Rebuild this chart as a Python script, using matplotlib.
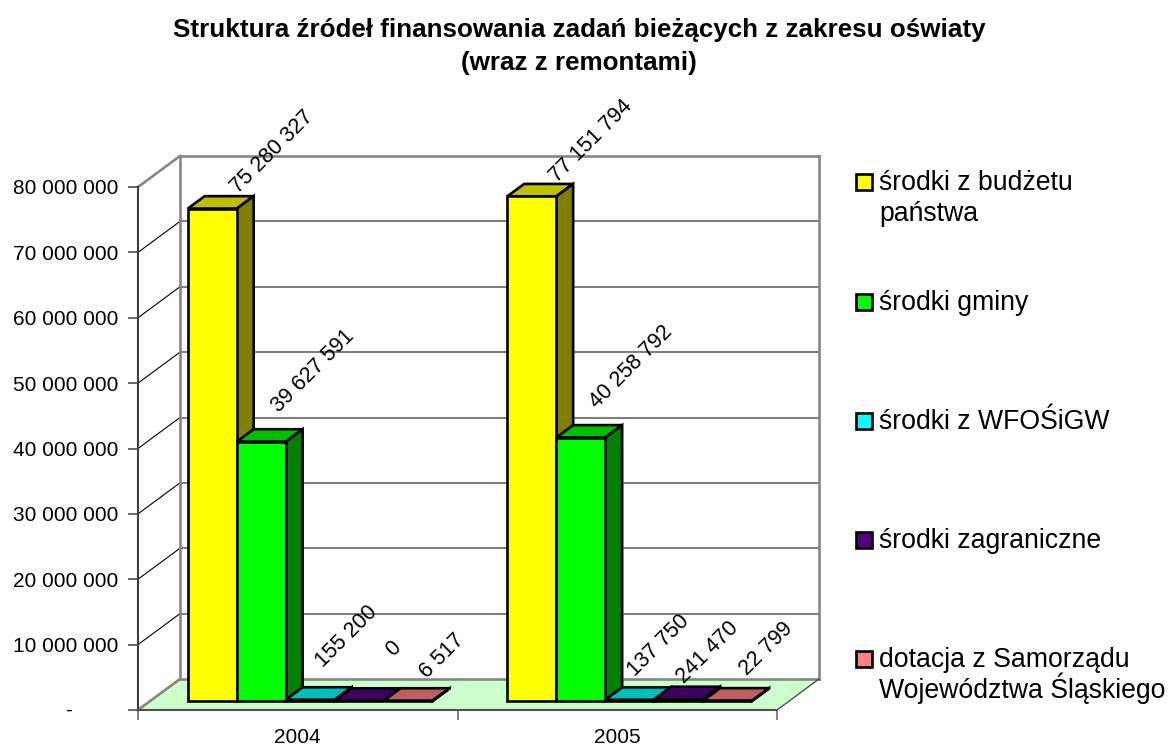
#!/usr/bin/env python3
# -*- coding: utf-8 -*-
import matplotlib
matplotlib.use('Agg')
import matplotlib.pyplot as plt
from matplotlib.patches import Polygon, Rectangle

plt.rcParams['font.family'] = ['Liberation Sans', 'DejaVu Sans']

# The numbers
years = ['2004', '2005']
budzet = [75280327, 77151794]
gmina = [39627591, 40258792]
wfosigw = [155200, 137750]
zagraniczne = [0, 241470]
samorzad = [6517, 22799]

series_names = ['środki z budżetu\npaństwa', 'środki gminy', 'środki z WFOŚiGW',
                'środki zagraniczne', 'dotacja z Samorządu\nWojewództwa Śląskiego']
series_colors = ['#FFFF00', '#00FF00', '#00FFFF', '#550080', '#FF8080']
y_ticks = [0, 10000000, 20000000, 30000000, 40000000, 50000000, 60000000, 70000000, 80000000]
y_ticklabels = ['', '10 000 000', '20 000 000', '30 000 000', '40 000 000',
                '50 000 000', '60 000 000', '70 000 000', '80 000 000']

W, H = 1169, 745
# front plane of the fake 3d box, in pixels
L, R, T, B = 138, 777, 187, 710
# how far the back wall sits from the front plane, in pixels
DX, DY = 42, 31

fig = plt.figure(figsize=(W/100, H/100), dpi=100)
ax = fig.add_axes([L/W, (H-B)/H, (R-L)/W, (B-T)/H])
ax.set_xlim(0, 2)
ax.set_ylim(0, 80000000)
ax.patch.set_visible(False)
ax.set_axisbelow(False)

xpx = 2/(R-L)
ypx = 80000000/(B-T)


def proj(x, y, d):
    """Data position at depth d (0 front, 1 back wall)"""
    return (x + d*DX*xpx, y + d*DY*ypx)


def face(pts, fc, ec='none', lw=0, z=1):
    ax.add_patch(Polygon(pts, closed=True, fc=fc, ec=ec, lw=lw, zorder=z,
                         clip_on=False, joinstyle='miter'))


def line(p0, p1, color, lw, z=2):
    ax.plot([p0[0], p1[0]], [p0[1], p1[1]], color=color, lw=lw, zorder=z,
            clip_on=False, solid_capstyle='projecting')


def shade(c, f):
    rgb = matplotlib.colors.to_rgb(c)
    return tuple(v*f for v in rgb)


# Floor
face([proj(0, 0, 0), proj(2, 0, 0), proj(2, 0, 1), proj(0, 0, 1)], '#CCFFCC')

# Walls and gridlines
for v in y_ticks[1:-1]:
    line(proj(0, v, 1), proj(2, v, 1), '#585858', 1.1)
    line(proj(0, v, 0), proj(0, v, 1), '#000000', 0.8)
wall = '#868686'
line(proj(0, 80000000, 1), proj(2, 80000000, 1), wall, 1.9)
line(proj(0, 0, 1), proj(2, 0, 1), wall, 1.9)
line(proj(0, 0, 1), proj(0, 80000000, 1), wall, 1.9)
line(proj(2, 0, 1), proj(2, 80000000, 1), wall, 1.9)
line(proj(0, 80000000, 0), proj(0, 80000000, 1), wall, 1.9)
line(proj(0, 0, 0), proj(0, 0, 1), wall, 1.9)
line(proj(2, 0, 0), proj(2, 0, 1), '#404040', 0.9)

# Bars
bw = 49*xpx
gap = (1 - 5*bw)/2
d0, d1 = 0.3, 0.7
series = [budzet, gmina, wfosigw, zagraniczne, samorzad]
# where each value label sits relative to the bar's front top centre, pixels
label_off = [[(60, 57), (59, 55)], [(52, 70), (50, 70)], [(36, 63), (29, 54)],
             [(34, 52), (29, 47)], [(34, 45), (39, 52)]]
for g in range(len(years)):
    for s, vals in enumerate(series):
        v = vals[g]
        x0 = g + gap + s*bw
        x1 = x0 + bw
        c = series_colors[s]
        face([proj(x0, v, d0), proj(x1, v, d0), proj(x1, v, d1), proj(x0, v, d1)],
             shade(c, 0.75), 'black', 1.9, 5)
        face([proj(x1, 0, d0), proj(x1, 0, d1), proj(x1, v, d1), proj(x1, v, d0)],
             shade(c, 0.5), 'black', 1.9, 5)
        face([proj(x0, 0, d0), proj(x1, 0, d0), proj(x1, v, d0), proj(x0, v, d0)],
             c, 'black', 1.9, 5)
        ax.annotate('{:,}'.format(v).replace(',', ' '), proj(x0 + bw/2, v, d0),
                    xytext=label_off[s][g], textcoords='offset pixels',
                    rotation=45, rotation_mode='anchor', ha='center', va='center',
                    fontsize=15.5, annotation_clip=False, zorder=8)

# Axes
for sp in ['top', 'right']:
    ax.spines[sp].set_visible(False)
ax.spines['left'].set_color('#404040')
ax.spines['left'].set_linewidth(1.5)
ax.spines['bottom'].set_color('#505050')
ax.spines['bottom'].set_linewidth(1.5)
ax.spines['bottom'].set_zorder(3)
ax.set_yticks(y_ticks)
ax.set_yticklabels(y_ticklabels, fontsize=15)
ax.tick_params(axis='y', length=7.2, width=1.1, color='#404040', pad=7)
ax.set_xticks([0, 1, 2])
ax.set_xticklabels([])
ax.tick_params(axis='x', which='major', length=7, width=1.1, color='#606060')
ax.set_xticks([0.5, 1.5], minor=True)
ax.set_xticklabels(years, minor=True, fontsize=15)
ax.tick_params(axis='x', which='minor', length=0, pad=13)
ax.text(-69*xpx, 0, '-', fontsize=15, ha='center', va='center')

# Title
fig.text(579/W, 1 - 30/H, 'Struktura źródeł finansowania zadań bieżących z zakresu oświaty',
         fontsize=18.7, fontweight='bold', ha='center', va='center')
fig.text(579/W, 1 - 63/H, '(wraz z remontami)',
         fontsize=18.7, fontweight='bold', ha='center', va='center')

# Legend, one baseline per entry
legend_base = [190, 310, 429, 548, 667]
for name, c, by in zip(series_names, series_colors, legend_base):
    fig.add_artist(Rectangle((856/W, 1 - by/H), 16/W, 16/H, fc=c, ec='black', lw=1.9,
                             transform=fig.transFigure))
    for i, part in enumerate(name.split('\n')):
        fig.text(879/W, 1 - (by + i*31)/H, part, fontsize=19.2, ha='left', va='baseline')

fig.savefig('out.png', dpi=100, facecolor='white')
